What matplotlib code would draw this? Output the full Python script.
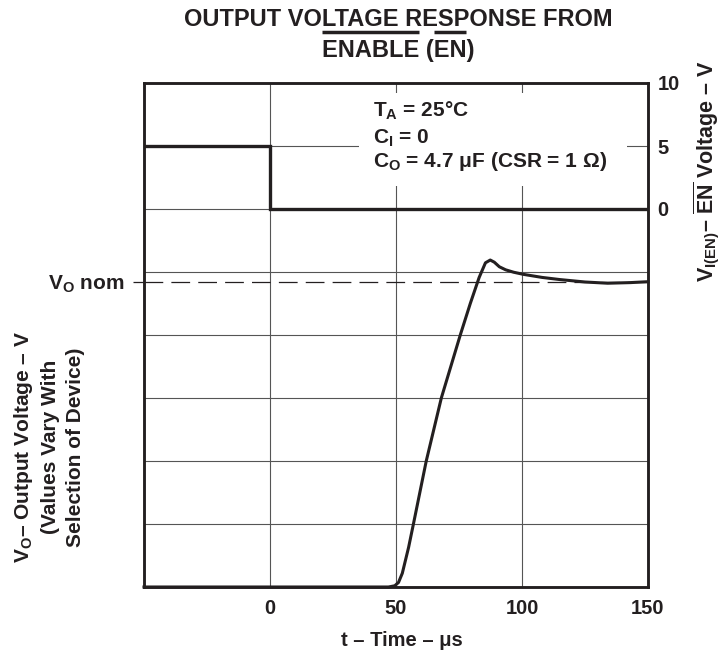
import numpy as np
import matplotlib
matplotlib.use('Agg')
import matplotlib.pyplot as plt
from matplotlib.lines import Line2D
from matplotlib.patches import Rectangle

plt.rcParams['font.family'] = ['Liberation Sans', 'DejaVu Sans']
plt.rcParams['font.weight'] = 'bold'
plt.rcParams['mathtext.fontset'] = 'custom'
plt.rcParams['mathtext.rm'] = 'Liberation Sans:bold'
plt.rcParams['mathtext.bf'] = 'Liberation Sans:bold'
plt.rcParams['mathtext.it'] = 'Liberation Sans:bold'
plt.rcParams['mathtext.sf'] = 'Liberation Sans:bold'

ink = '#231f20'

# EN input (right axis, V)
en_t = [-50, 0, 0, 150]
en_v = [5, 5, 0, 0]

# output voltage, % of V_O nom (left axis)
vo_t = [-50, 47, 49.5, 51, 52.5, 55, 57, 62, 68, 75.5, 79.5, 83, 85.5,
        87.4, 89, 91, 93.5, 96.7, 100.6, 108, 115, 125, 134, 143, 150]
vo_pct = [0, 0, 0.4, 1.5, 4.5, 13, 21, 41.3, 62, 82.6, 93, 101.5, 106.3,
          107.2, 106.5, 105, 104, 103.2, 102.5, 101.5, 100.8, 100, 99.6, 99.8, 100.1]
vo_nom = 100

x_ticks = [-50, 0, 50, 100, 150]
x_labels = ['', '0', '50', '100', '150']
en_ticks = [-30, -25, -20, -15, -10, -5, 0, 5, 10]
en_labels = ['', '', '', '', '', '', '0', '5', '10']

W, H = 727, 652
fig = plt.figure(figsize=(W / 100, H / 100), dpi=100)
axen = fig.add_axes([144 / W, 65 / H, 504 / W, 504 / H])
ax_vo = axen.twinx()

# EN step and grid
axen.plot(en_t, en_v, color=ink, lw=2.4, solid_joinstyle='miter', zorder=3)
axen.set_xlim(-50, 150)
axen.set_ylim(-30, 10)
axen.set_xticks(x_ticks)
axen.set_xticklabels(x_labels)
axen.set_yticks(en_ticks)
axen.set_yticklabels(en_labels)
axen.yaxis.set_ticks_position('right')
axen.tick_params(length=0, labelsize=14.5, colors=ink)
axen.tick_params(axis='x', pad=9)
axen.tick_params(axis='y', pad=7)
axen.grid(True, color='#555555', lw=0.8)
axen.add_patch(Rectangle((0.427, 0.796), 0.531, 0.184, transform=axen.transAxes,
                         facecolor='white', edgecolor='none', zorder=2))

# output voltage
ax_vo.yaxis.set_ticks_position('left')
ax_vo.yaxis.set_label_position('left')
ax_vo.plot(vo_t, vo_pct, color=ink, lw=2.2, zorder=3, clip_on=False)
ax_vo.axhline(vo_nom, color=ink, lw=0.9, dashes=(15, 6.5), zorder=2)
ax_vo.set_ylim(0, vo_nom * 504 / 305)
ax_vo.set_yticks([vo_nom])
ax_vo.set_yticklabels([r'$\mathbf{V_O}$ nom'])
ax_vo.tick_params(axis='y', length=8, width=0.9, pad=6, labelsize=15,
                  colors=ink, direction='out')

for a in (axen, ax_vo):
    for s in a.spines.values():
        s.set_linewidth(1.8)
        s.set_color(ink)

# conditions
ax_vo.text(0.454, 0.933, r'$\mathbf{T_A}$ = 25°C', transform=ax_vo.transAxes,
           fontsize=15, color=ink, va='baseline', zorder=4)
ax_vo.text(0.454, 0.879, r'$\mathbf{C_I}$ = 0', transform=ax_vo.transAxes,
           fontsize=15, color=ink, va='baseline', zorder=4)
ax_vo.text(0.454, 0.833, r'$\mathbf{C_O}$ = 4.7 μF (CSR = 1 Ω)', transform=ax_vo.transAxes,
           fontsize=15, color=ink, va='baseline', zorder=4)

# axis labels
fig.text(48.5 / W, (H - 447) / H,
         r'$\mathbf{V_O}$– Output Voltage – V' + '\n(Values Vary With\nSelection of Device)',
         rotation=90, ha='center', va='center', multialignment='center',
         fontsize=15, color=ink, linespacing=1.4)
fig.text(706.7 / W, (H - 171) / H,
         r'$\mathbf{V_{I(EN)}}$– $\overline{\mathbf{EN}}$ Voltage – V',
         rotation=90, ha='center', va='center', fontsize=15.5, color=ink)
fig.text(402 / W, (H - 640) / H, 't – Time – μs', ha='center', va='center',
         fontsize=14.5, color=ink)

# title with overlines
fig.text(398 / W, (H - 26) / H, 'OUTPUT VOLTAGE RESPONSE FROM', ha='center',
         va='baseline', fontsize=17, color=ink)
t2 = fig.text(398 / W, (H - 57) / H, 'ENABLE (EN)', ha='center', va='baseline',
              fontsize=17, color=ink)
fig.canvas.draw()
r = fig.canvas.get_renderer()
bb = t2.get_window_extent(r)


def width_of(s):
    t = fig.text(0, 0, s, fontsize=17)
    w = t.get_window_extent(r).width
    t.remove()
    return w


w1 = width_of('ENABLE')
w2 = width_of('ENABLE (')
w3 = width_of('ENABLE (EN')
oy = (H - 32) / H
for a, b in [(0, w1), (w2, w3)]:
    fig.add_artist(Line2D([(bb.x0 + a) / W, (bb.x0 + b) / W], [oy, oy],
                          transform=fig.transFigure, color=ink, lw=2.5,
                          solid_capstyle='butt'))

fig.savefig('out.png', dpi=100, facecolor='white')
